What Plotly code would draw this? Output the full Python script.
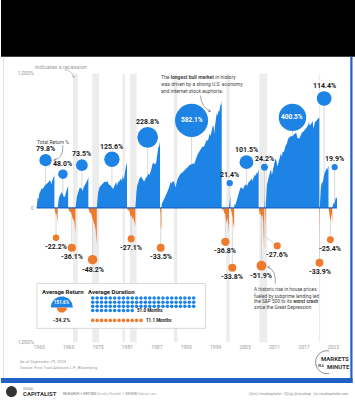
import math
import plotly.graph_objects as go

W, H = 355, 400

# ------------------------------------------------------------------ DATA
bull_returns = [79.8, 48.0, 73.5, 125.6, 228.8, 582.1, 21.4, 101.5, 24.2, 400.5, 114.4, 19.9]
bear_returns = [-22.2, -36.1, -48.2, -27.1, -33.5, -36.8, -33.8, -51.9, -27.6, -33.9, -25.4]
avg_bull_duration_months = 51.0
avg_bear_duration_months = 11.1

recession_start = [1969.92, 1973.83, 1980.00, 1981.50, 1990.50, 2001.17, 2007.92, 2020.08]
recession_end = [1970.87, 1975.20, 1980.50, 1982.87, 1991.20, 2001.87, 2009.50, 2020.30]

x_tick_years = [1963, 1969, 1975, 1981, 1987, 1993, 1999, 2005, 2011, 2017, 2023]
y_tick_pct = [1000, 0, -1000]
y_tick_labels = ["1,000%", "0", "-1,000%"]

# cumulative return paths inside each market: (decimal year, cumulative %)
bull_1962 = [(1962.48, 0), (1962.55, 12), (1962.70, 20), (1962.85, 17), (1963.05, 30), (1963.30, 36),
             (1963.50, 42), (1963.75, 40), (1964.00, 47), (1964.40, 52), (1964.70, 56), (1965.00, 60),
             (1965.25, 64), (1965.40, 58), (1965.50, 52), (1965.65, 62), (1965.85, 72), (1966.00, 75),
             (1966.11, 79.8)]
bear_1966 = [(1966.11, 0), (1966.25, -6), (1966.40, -12), (1966.50, -9), (1966.62, -17), (1966.77, -22.2)]
bull_1966 = [(1966.77, 0), (1966.85, 10), (1967.00, 18), (1967.20, 25), (1967.45, 30), (1967.65, 33),
             (1967.80, 27), (1967.95, 22), (1968.10, 25), (1968.25, 20), (1968.40, 30), (1968.60, 35),
             (1968.75, 42), (1968.91, 48.0)]
bear_1968 = [(1968.91, 0), (1969.10, -5), (1969.30, -8), (1969.45, -6), (1969.60, -12), (1969.80, -15),
             (1969.95, -20), (1970.10, -18), (1970.25, -28), (1970.40, -36.1)]
bull_1970 = [(1970.40, 0), (1970.50, 10), (1970.70, 22), (1970.90, 30), (1971.10, 38), (1971.30, 45),
             (1971.50, 42), (1971.70, 40), (1971.90, 35), (1972.05, 45), (1972.30, 50), (1972.50, 55),
             (1972.70, 58), (1972.85, 65), (1973.03, 73.5)]
bear_1973 = [(1973.03, 0), (1973.20, -6), (1973.40, -10), (1973.55, -8), (1973.75, -14), (1973.90, -20),
             (1974.10, -22), (1974.30, -26), (1974.50, -32), (1974.62, -40), (1974.75, -48.2)]
bull_1974 = [(1974.75, 0), (1974.85, 15), (1975.00, 30), (1975.30, 45), (1975.60, 50), (1976.00, 55),
             (1976.30, 60), (1976.60, 58), (1976.90, 62), (1977.20, 52), (1977.50, 50), (1977.80, 45),
             (1978.10, 40), (1978.40, 50), (1978.70, 60), (1978.85, 48), (1979.10, 58), (1979.40, 62),
             (1979.70, 70), (1979.85, 62), (1980.10, 78), (1980.25, 65), (1980.45, 90), (1980.65, 105),
             (1980.80, 118), (1980.91, 125.6)]
bear_1980 = [(1980.91, 0), (1981.10, -5), (1981.30, -3), (1981.50, -8), (1981.70, -15), (1981.85, -12),
             (1982.00, -18), (1982.20, -16), (1982.40, -22), (1982.61, -27.1)]
bull_1982 = [(1982.61, 0), (1982.70, 20), (1982.85, 35), (1983.00, 50), (1983.30, 62), (1983.50, 70),
             (1983.80, 75), (1984.10, 65), (1984.40, 60), (1984.70, 70), (1985.00, 75), (1985.30, 85),
             (1985.50, 80), (1985.80, 95), (1986.00, 115), (1986.20, 125), (1986.45, 120), (1986.70, 118),
             (1986.90, 130), (1987.10, 170), (1987.30, 195), (1987.45, 200), (1987.55, 215), (1987.65, 228.8)]
bear_1987 = [(1987.65, 0), (1987.72, -5), (1987.78, -12), (1987.81, -30), (1987.87, -28), (1987.93, -33.5)]
bull_1987 = [(1987.93, 0), (1988.00, 8), (1988.30, 13), (1988.60, 20), (1988.90, 24), (1989.20, 35),
             (1989.50, 45), (1989.80, 59), (1990.00, 55), (1990.25, 62), (1990.50, 60), (1990.80, 45),
             (1991.00, 55), (1991.20, 67), (1991.50, 75), (1991.80, 83), (1992.20, 88), (1992.60, 95),
             (1993.00, 105), (1993.30, 111), (1993.70, 115), (1994.10, 118), (1994.47, 122), (1994.60, 118),
             (1994.90, 140), (1995.30, 160), (1995.60, 172), (1995.90, 185), (1996.30, 200), (1996.60, 198),
             (1996.90, 223), (1997.20, 240), (1997.40, 230), (1997.60, 265), (1997.80, 280), (1997.95, 262),
             (1998.20, 300), (1998.45, 340), (1998.60, 325), (1998.70, 275), (1998.85, 330), (1999.00, 400),
             (1999.20, 440), (1999.40, 420), (1999.55, 470), (1999.70, 455), (1999.85, 510), (2000.00, 540),
             (2000.10, 525), (2000.23, 582.1)]
bear_2000 = [(2000.23, 0), (2000.40, -4), (2000.55, -2), (2000.75, -10), (2000.90, -8), (2001.05, -18),
             (2001.20, -25), (2001.35, -15), (2001.50, -20), (2001.62, -28), (2001.72, -36.8)]
bull_2001 = [(2001.72, 0), (2001.78, 10), (2001.85, 15), (2001.92, 17), (2002.01, 21.4)]
bear_2002 = [(2002.01, 0), (2002.15, -4), (2002.30, -8), (2002.45, -15), (2002.55, -28), (2002.65, -22),
             (2002.77, -33.8)]
bull_2002 = [(2002.77, 0), (2002.85, 8), (2003.00, 5), (2003.20, 12), (2003.40, 22), (2003.60, 28),
             (2003.90, 38), (2004.10, 45), (2004.40, 42), (2004.60, 40), (2004.90, 50), (2005.20, 52),
             (2005.40, 48), (2005.70, 58), (2006.00, 62), (2006.30, 70), (2006.45, 62), (2006.70, 72),
             (2007.00, 82), (2007.20, 78), (2007.40, 90), (2007.55, 85), (2007.77, 101.5)]
bear_2007 = [(2007.77, 0), (2007.90, -6), (2008.05, -12), (2008.20, -10), (2008.40, -15), (2008.55, -12),
             (2008.70, -22), (2008.78, -40), (2008.85, -45), (2008.89, -51.9)]
bull_2008 = [(2008.89, 0), (2008.93, 12), (2008.97, 20), (2009.01, 24.2)]
bear_2009 = [(2009.01, 0), (2009.08, -12), (2009.14, -20), (2009.19, -27.6)]
bull_2009 = [(2009.19, 0), (2009.30, 25), (2009.45, 50), (2009.60, 60), (2009.80, 75), (2010.00, 85),
             (2010.30, 100), (2010.45, 80), (2010.60, 90), (2010.85, 115), (2011.10, 135), (2011.30, 140),
             (2011.60, 110), (2011.80, 125), (2012.00, 145), (2012.30, 165), (2012.45, 150), (2012.70, 175),
             (2012.90, 170), (2013.20, 200), (2013.50, 215), (2013.80, 245), (2014.10, 255), (2014.40, 262),
             (2014.60, 258), (2014.90, 272), (2015.20, 280), (2015.45, 282), (2015.65, 250), (2016.05, 245),
             (2016.30, 270), (2016.60, 285), (2016.90, 292), (2017.20, 310), (2017.50, 318), (2017.80, 335),
             (2018.05, 365), (2018.15, 335), (2018.50, 350), (2018.75, 375), (2018.97, 310), (2019.20, 360),
             (2019.50, 380), (2019.75, 385), (2019.95, 395), (2020.13, 400.5)]
bear_2020 = [(2020.13, 0), (2020.16, -10), (2020.19, -25), (2020.22, -33.9)]
bull_2020 = [(2020.22, 0), (2020.30, 25), (2020.45, 45), (2020.60, 55), (2020.70, 62), (2020.82, 55),
             (2020.95, 75), (2021.10, 80), (2021.30, 90), (2021.50, 98), (2021.70, 105), (2021.75, 97),
             (2021.90, 112), (2022.01, 114.4)]
bear_2022 = [(2022.01, 0), (2022.15, -8), (2022.30, -12), (2022.45, -22), (2022.55, -15), (2022.65, -10),
             (2022.72, -20), (2022.78, -25.4)]
bull_2022 = [(2022.78, 0), (2022.90, 8), (2023.00, 10), (2023.15, 6), (2023.30, 12), (2023.45, 16),
             (2023.55, 22), (2023.65, 18), (2023.74, 19.9)]

bull_paths = [bull_1962, bull_1966, bull_1970, bull_1974, bull_1982, bull_1987,
              bull_2001, bull_2002, bull_2008, bull_2009, bull_2020, bull_2022]
bear_paths = [bear_1966, bear_1968, bear_1973, bear_1980, bear_1987, bear_2000,
              bear_2002, bear_2007, bear_2009, bear_2020, bear_2022]

# ------------------------------------------------------------------ LAYOUT (placement, not data)
PX_PER_YEAR, REF_YEAR, REF_PX = 4.917, 1966.4, 55.0
ZERO_PX, PX_PER_UNIT = 209.0, 56.3
PLOT_L, PLOT_R, PLOT_T, PLOT_B = 34, 350, 57, 345
bull_bubble_lift_px = [48, 34, 43, 49, 71, 88, 25, 46, 41, 91, 110, 41]
bear_bubble_drop_px = [30, 40, 52, 31, 40, 34, 60, 58, 38, 55, 32]
bear_bubble_shift_px = [0, 0, 0, 0, 0, 0, 0, 0, 12, 0, 0]
BUBBLE_SCALE = 1.37
BLUE, ORANGE = "#1d84e6", "#ee7b2c"
FONT = "Roboto, 'Open Sans', sans-serif"


def grow(r):
    """log-growth transform used by the value axis"""
    return math.log(1 + r / 100.0)


def yr_at(px):
    return REF_YEAR + (px - REF_PX) / PX_PER_YEAR


def val_at(py):
    return (ZERO_PX - py) / PX_PER_UNIT


fig = go.Figure()

# stems from baseline to bubbles
stem_x, stem_y = [], []
bull_bx, bull_by, bear_bx, bear_by = [], [], [], []
for path, lift in zip(bull_paths, bull_bubble_lift_px):
    xm = (path[0][0] + path[-1][0]) / 2
    yb = lift / PX_PER_UNIT
    bull_bx.append(xm)
    bull_by.append(yb)
    stem_x += [xm, xm, None]
    stem_y += [0, yb, None]
for path, drop, shift in zip(bear_paths, bear_bubble_drop_px, bear_bubble_shift_px):
    xm = (path[0][0] + path[-1][0]) / 2
    yb = -drop / PX_PER_UNIT
    xb = xm + shift / PX_PER_YEAR
    bear_bx.append(xb)
    bear_by.append(yb)
    if shift:
        ykink = yb + 9 / PX_PER_UNIT
        stem_x += [xm, xm, xb, None]
        stem_y += [0, ykink, yb, None]
    else:
        stem_x += [xm, xm, None]
        stem_y += [0, yb, None]

fig.add_trace(go.Scatter(x=stem_x, y=stem_y, mode="lines", line=dict(color="#cfcfcf", width=0.8),
                         hoverinfo="skip"))


def polygons(paths):
    xs, ys = [], []
    for p in paths:
        xs += [t for t, _ in p] + [p[-1][0], None]
        ys += [grow(r) for _, r in p] + [0, None]
    return xs, ys


bx, by = polygons(bull_paths)
fig.add_trace(go.Scatter(x=bx, y=by, mode="lines", fill="toself", fillcolor=BLUE,
                         line=dict(width=0, color=BLUE), hoverinfo="skip"))
ox, oy = polygons(bear_paths)
fig.add_trace(go.Scatter(x=ox, y=oy, mode="lines", fill="toself", fillcolor=ORANGE,
                         line=dict(width=0, color=ORANGE), hoverinfo="skip"))
# baseline
fig.add_trace(go.Scatter(x=[bull_paths[0][0][0], bull_paths[-1][-1][0]], y=[0, 0], mode="lines",
                         line=dict(color="#1a62c4", width=1.2), hoverinfo="skip"))

bull_sizes = [BUBBLE_SCALE * math.sqrt(abs(r)) for r in bull_returns]
bear_sizes = [BUBBLE_SCALE * math.sqrt(abs(r)) for r in bear_returns]
fig.add_trace(go.Scatter(x=bull_bx, y=bull_by, mode="markers",
                         marker=dict(size=bull_sizes, color=BLUE, opacity=1, line=dict(width=0)),
                         hoverinfo="skip"))
fig.add_trace(go.Scatter(x=bear_bx, y=bear_by, mode="markers",
                         marker=dict(size=bear_sizes, color=ORANGE, opacity=1, line=dict(width=0)),
                         hoverinfo="skip"))

ann = []
for xb, yb, r, s in zip(bull_bx, bull_by, bull_returns, bull_sizes):
    if r > 300:
        ann.append(dict(x=xb, y=yb, xref="x", yref="y", text=f"<b>{r:.1f}%</b>", showarrow=False,
                        font=dict(family=FONT, size=6.5, color="white")))
    else:
        ann.append(dict(x=xb, y=yb, xref="x", yref="y", text=f"<b>{r:.1f}%</b>", showarrow=False,
                        yshift=s / 2 + 5, font=dict(family=FONT, size=7, color="#1a1a1a")))
for xb, yb, r, s in zip(bear_bx, bear_by, bear_returns, bear_sizes):
    ann.append(dict(x=xb, y=yb, xref="x", yref="y", text=f"<b>{r:.1f}%</b>", showarrow=False,
                    yshift=-(s / 2 + 5.5), font=dict(family=FONT, size=7, color="#1a1a1a")))

shapes = []
for a, b in zip(recession_start, recession_end):
    shapes.append(dict(type="rect", xref="x", yref="y", x0=a, x1=b, y0=-grow(1000), y1=grow(1000),
                       fillcolor="#ececec", line=dict(width=0), layer="below"))


def px_text(x, y, text, size=5, color="#444", anchor="center", bold=False):
    t = f"<b>{text}</b>" if bold else text
    ann.append(dict(x=x, y=y, xref="x2", yref="y2", text=t, showarrow=False, xanchor=anchor,
                    yanchor="middle", font=dict(family=FONT, size=size, color=color)))


def px_path(d, color="#888", width=0.7, fill=None, layer="above"):
    shapes.append(dict(type="path", xref="x2", yref="y2", path=d, line=dict(color=color, width=width),
                       fillcolor=fill, layer=layer))


def px_rect(x0, y0, x1, y1, fill, line=None, lw=0, layer="above"):
    shapes.append(dict(type="rect", xref="x2", yref="y2", x0=x0, y0=y0, x1=x1, y1=y1, fillcolor=fill,
                       line=dict(color=line or fill, width=lw), layer=layer))


def arc_path(cx, cy, r, a0, a1, n=30):
    pts = [(cx + r * math.cos(math.radians(a0 + (a1 - a0) * k / n)),
            cy - r * math.sin(math.radians(a0 + (a1 - a0) * k / n))) for k in range(n + 1)]
    return "M " + " L ".join(f"{x:.2f} {y:.2f}" for x, y in pts)


# frame
px_rect(0, 0, W, PLOT_T, "black")
px_rect(0, 380, 352.5, 385, "#2160c4")
px_rect(350.3, PLOT_T, 352.5, 385, "#2160c4")
px_rect(2.2, PLOT_T, 2.9, 380, "#d6d6d6")

# annotations
px_text(60, 67, "Indicates a recession", 5.5, "#9a9a9a")
px_path("M 63 70 Q 71 70 73 78", "#9a9a9a", 0.6)
px_path("M 71.3 75.9 L 73 78 L 74.7 76", "#9a9a9a", 0.6)
px_text(52, 143, "Total Return %", 5, "#444")
px_path("M 62 146 Q 63 159 53 161", "#666", 0.6)
px_path("M 55.4 159.3 L 53 161 L 55.6 162.5", "#666", 0.6)
px_text(158, 77, "The <b>longest bull market</b> in history", 5, "#444", "left")
px_text(158, 84, "was driven by a strong U.S. economy", 5, "#444", "left")
px_text(158, 91, "and internet stock euphoria.", 5, "#444", "left")
px_path("M 200 96 Q 201 108 210 112", "#666", 0.6)
px_path("M 207.6 112.3 L 210 112 L 208.7 109.9", "#666", 0.6)
px_text(252, 291, "A historic rise in house prices", 4.8, "#444", "left")
px_text(252, 297, "fueled by subprime lending led", 4.8, "#444", "left")
px_text(252, 303, "the S&P 500 to its <b>worst crash</b>", 4.8, "#444", "left")
px_text(252, 309, "since the Great Depression.", 4.8, "#444", "left")
px_path("M 275 285 Q 276 271 267.5 268.5", "#666", 0.6)
px_path("M 269.2 267 L 267.5 268.5 L 269.6 269.6", "#666", 0.6)

# legend box
px_rect(36, 285, 205, 330, "white", "#cfcfcf", 0.8, layer="below")
avg_bull = sum(bull_returns) / len(bull_returns)
avg_bear = sum(bear_returns) / len(bear_returns)
px_text(62, 293, "Average Return", 6, "#222", bold=True)
px_text(111, 293, "Average Duration", 6, "#222", bold=True)
cx, cy = 61, 309
rb, ro = 0.9 * math.sqrt(avg_bull), 0.9 * math.sqrt(abs(avg_bear))
sx = [cx + rb * math.cos(math.pi * k / 40) for k in range(41)]
sy = [cy - rb * math.sin(math.pi * k / 40) for k in range(41)]
fig.add_trace(go.Scatter(x=sx, y=sy, xaxis="x2", yaxis="y2", mode="lines", fill="toself", fillcolor=BLUE,
                         line=dict(width=0), hoverinfo="skip"))
sx = [cx + ro * math.cos(math.pi * k / 40) for k in range(41)]
sy = [cy + ro * math.sin(math.pi * k / 40) for k in range(41)]
fig.add_trace(go.Scatter(x=sx, y=sy, xaxis="x2", yaxis="y2", mode="lines", fill="toself", fillcolor=ORANGE,
                         line=dict(width=0), hoverinfo="skip"))
px_text(cx, 304.5, f"{avg_bull:.1f}%", 4.5, "white", bold=True)
px_text(cx, 322, f"{avg_bear:.1f}%", 5.5, "#222", bold=True)

# duration dots
PER_ROW, PITCH, ROW_GAP = 24, 4.4, 4.2
DOTS_PER_MONTH = 1.6
n_bull = int(round(avg_bull_duration_months * DOTS_PER_MONTH))
n_bear = int(round(avg_bear_duration_months * 1.1))
dxs = [92 + (i % PER_ROW) * PITCH for i in range(n_bull)]
dys = [299.5 + (i // PER_ROW) * ROW_GAP for i in range(n_bull)]
fig.add_trace(go.Scatter(x=dxs, y=dys, xaxis="x2", yaxis="y2", mode="markers",
                         marker=dict(size=3.6, color=BLUE, opacity=1), hoverinfo="skip"))
px_text(dxs[-1] + 3, dys[-1], f"{avg_bull_duration_months:.1f} Months", 4.5, "#222", "left", bold=True)
oxs = [92 + i * PITCH for i in range(n_bear)]
fig.add_trace(go.Scatter(x=oxs, y=[322] * n_bear, xaxis="x2", yaxis="y2", mode="markers",
                         marker=dict(size=3.6, color=ORANGE, opacity=1), hoverinfo="skip"))
px_text(oxs[-1] + 3, 322, f"{avg_bear_duration_months:.1f} Months", 4.5, "#222", "left", bold=True)

# source
px_text(17, 363, "As of September 29, 2023", 4, "#9a9a9a", "left")
px_text(17, 369, "Source: First Trust Advisors L.P., Bloomberg", 4, "#9a9a9a", "left")

# markets in a minute logo
px_path(arc_path(327, 364, 11.5, 80, 280), "#555", 0.7)
px_text(318.5, 360, "MARKETS", 6, "#333", "left", bold=True)
px_text(321.5, 368, "IN A", 3, "#333", bold=True)
px_text(325, 368, "MINUTE", 6, "#333", "left", bold=True)

# footer
shapes.append(dict(type="circle", xref="x2", yref="y2", x0=5, x1=16, y0=388, y1=399, fillcolor="#333",
                   line=dict(width=0), layer="above"))
px_text(20, 390.5, "VISUAL", 3.2, "#777", "left")
px_text(20, 395.5, "CAPITALIST", 6, "#333", "left", bold=True)
px_text(60, 395.5, "RESEARCH + WRITING <span style='color:#aaa'>Dorothy Neufeld</span>  /  DESIGN "
        "<span style='color:#aaa'>Sabrina Lam</span>", 3.3, "#777", "left")
px_text(350, 395.5, "(f)(in) /visualcapitalist   (X)(ig) @visualcap   (w) visualcapitalist.com",
        3.3, "#888", "right")

fig.add_trace(go.Scatter(x=[0, W], y=[0, H], xaxis="x2", yaxis="y2", mode="markers",
                         marker=dict(size=1, color="rgba(0,0,0,0)"), hoverinfo="skip"))

fig.update_layout(
    width=W, height=H, margin=dict(l=0, r=0, t=0, b=0), showlegend=False,
    paper_bgcolor="white", plot_bgcolor="rgba(0,0,0,0)",
    xaxis=dict(domain=[PLOT_L / W, PLOT_R / W], range=[yr_at(PLOT_L), yr_at(PLOT_R)],
               tickvals=x_tick_years, ticktext=[str(y) for y in x_tick_years],
               showgrid=False, zeroline=False, showline=False, ticks="",
               tickfont=dict(family=FONT, size=5, color="#9a9a9a"), fixedrange=True),
    yaxis=dict(domain=[1 - PLOT_B / H, 1 - PLOT_T / H], range=[val_at(PLOT_B), val_at(PLOT_T)],
               tickvals=[math.copysign(grow(abs(p)), p) if p else 0 for p in y_tick_pct],
               ticktext=y_tick_labels, showgrid=False, zeroline=False, showline=False, ticks="",
               tickfont=dict(family=FONT, size=5, color="#9a9a9a"), fixedrange=True),
    xaxis2=dict(domain=[0, 1], range=[0, W], visible=False, anchor="y2", fixedrange=True),
    yaxis2=dict(domain=[0, 1], range=[H, 0], visible=False, anchor="x2", fixedrange=True),
    shapes=shapes, annotations=ann,
)
fig.write_html("out.html", config={"displayModeBar": False},
               post_script="document.body.style.margin='0';document.body.style.overflow='hidden';")
